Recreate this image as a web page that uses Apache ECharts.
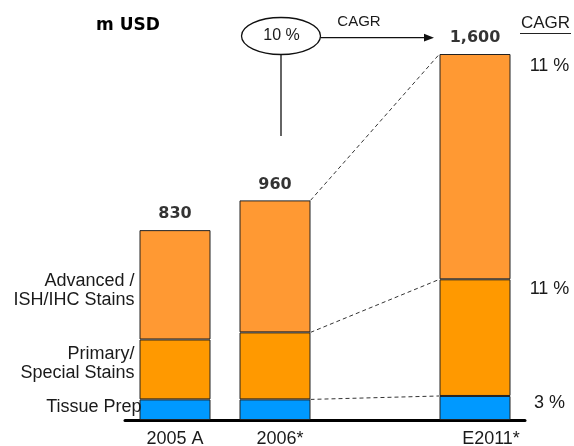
<!DOCTYPE html>
<html>
<head>
<meta charset="utf-8">
<script src="https://cdn.jsdelivr.net/npm/echarts@6/dist/echarts.min.js"></script>
<style>
    html, body { margin: 0; padding: 0; background: #fff; }
    #chart { width: 574px; height: 446px; }
</style>
</head>
<body>
<div id="chart"></div>
<script>
// market size, m USD (slot 2 is an empty gap between 2006 and 2011)
var categories = ['2005 A', '2006*', '', 'E2011*'];
var tissuePrep = [90, 90, null, 105];
var primaryStains = [262, 293, null, 510];
var advancedStains = [478, 577, null, 985];
var totals = [830, 960, null, 1600];
// segment CAGR 2006-2011: tissue, primary, advanced
var segmentCagr = ['3 %', '11 %', '11 %'];
var totalCagr = '10 %';

(function() {
    var myChart = echarts.init(document.getElementById('chart'));
    var font = "'Liberation Sans', Arial, sans-serif";
    var barW = 71;
    var half = barW / 2;

    function barItems(data, leftLabel, cagr) {
        return data.map(function(v, i) {
            var item = { value: v };
            if (i === 0) item.label = leftLabel;
            if (i === 3) item.label = cagr;
            return item;
        });
    }

    function leftLabel(text, dist, dy) {
        return {
            show: true,
            position: 'left',
            distance: dist,
            offset: [0, dy],
            align: 'right',
            formatter: text,
            color: '#1a1a1a',
            fontSize: 18,
            lineHeight: 19,
            fontFamily: font
        };
    }

    function cagrLabel(text, dy) {
        return {
            show: true,
            position: [110, dy],
            align: 'center',
            verticalAlign: 'middle',
            formatter: text,
            color: '#1a1a1a',
            fontSize: 18,
            fontFamily: font
        };
    }

    function barSeries(name, data, color, lbl, cagr) {
        return {
            name: name,
            type: 'bar',
            stack: 'total',
            barWidth: barW,
            itemStyle: { color: color, borderColor: '#222', borderWidth: 1 },
            data: barItems(data, lbl, cagr)
        };
    }

    // dashed connectors between 2006 and 2011 stack levels
    var links = [];
    var c1 = 0, c3 = 0;
    [tissuePrep, primaryStains, advancedStains].forEach(function(arr) {
        c1 += arr[1];
        c3 += arr[3];
        links.push([1, c1, 3, c3]);
    });

    var option = {
        animation: false,
        grid: { left: 125, right: 49, top: 54, bottom: 26, outerBoundsMode: 'none' },
        xAxis: {
            type: 'category',
            data: [
                categories[0],
                { value: categories[1], textStyle: { padding: [0, 0, 0, 10] } },
                categories[2],
                { value: categories[3], textStyle: { padding: [0, 0, 0, 32] } }
            ],
            axisTick: { show: false },
            axisLine: { lineStyle: { color: '#000', width: 3 } },
            axisLabel: { color: '#1a1a1a', fontSize: 18, fontFamily: font, margin: 10 }
        },
        yAxis: { type: 'value', min: 0, max: 1600, show: false },
        series: [
            barSeries('Tissue Prep', tissuePrep, '#0099ff',
                leftLabel('Tissue Prep', -2, -3), cagrLabel(segmentCagr[0], 7)),
            barSeries('Primary/ Special Stains', primaryStains, '#ff9900',
                leftLabel('Primary/\nSpecial Stains', 5, -6), cagrLabel(segmentCagr[1], 10)),
            barSeries('Advanced / ISH/IHC Stains', advancedStains, '#ff9933',
                leftLabel('Advanced /\nISH/IHC Stains', 5, 6), cagrLabel(segmentCagr[2], 12)),
            {
                type: 'scatter',
                symbolSize: 0,
                data: totals,
                label: {
                    show: true,
                    position: 'top',
                    distance: 8,
                    formatter: function(p) { return p.value.toLocaleString('en-US'); },
                    color: '#000',
                    fontSize: 16,
                    fontWeight: 'bold',
                    fontFamily: "'DejaVu Sans', sans-serif"
                }
            },
            {
                type: 'custom',
                encode: { x: [0, 2], y: [1, 3] },
                data: links,
                renderItem: function(params, api) {
                    var a = api.coord([api.value(0), api.value(1)]);
                    var b = api.coord([api.value(2), api.value(3)]);
                    return {
                        type: 'line',
                        shape: { x1: a[0] + half, y1: a[1], x2: b[0] - half, y2: b[1] },
                        style: { stroke: '#333', lineWidth: 1, lineDash: [4, 3] }
                    };
                }
            }
        ],
        graphic: [
            { type: 'text', left: 96, top: 17, style: { text: 'm USD', fill: '#000', font: "bold 17px 'DejaVu Sans'" } },
            { type: 'ellipse', shape: { cx: 281, cy: 36, rx: 39.5, ry: 18.5 }, style: { fill: 'none', stroke: '#111', lineWidth: 1.3 } },
            { type: 'text', x: 281.5, y: 36, style: { text: totalCagr, fill: '#1a1a1a', font: '16px ' + font, align: 'center', verticalAlign: 'middle' } },
            { type: 'line', shape: { x1: 281, y1: 54.5, x2: 281, y2: 136 }, style: { stroke: '#111', lineWidth: 1.3 } },
            { type: 'line', shape: { x1: 320.5, y1: 37.7, x2: 427, y2: 37.7 }, style: { stroke: '#111', lineWidth: 1.3 } },
            { type: 'polygon', shape: { points: [[434, 37.7], [424, 33.8], [424, 41.6]] }, style: { fill: '#111' } },
            { type: 'text', x: 359, y: 22, style: { text: 'CAGR', fill: '#1a1a1a', font: '15px ' + font, align: 'center', verticalAlign: 'middle' } },
            { type: 'text', x: 545.5, y: 23, style: { text: 'CAGR', fill: '#1a1a1a', font: '17px ' + font, align: 'center', verticalAlign: 'middle' } },
            { type: 'line', shape: { x1: 520, y1: 33.5, x2: 571, y2: 33.5 }, style: { stroke: '#222', lineWidth: 1.2 } }
        ]
    };
    myChart.setOption(option);
}());
</script>
</body>
</html>
